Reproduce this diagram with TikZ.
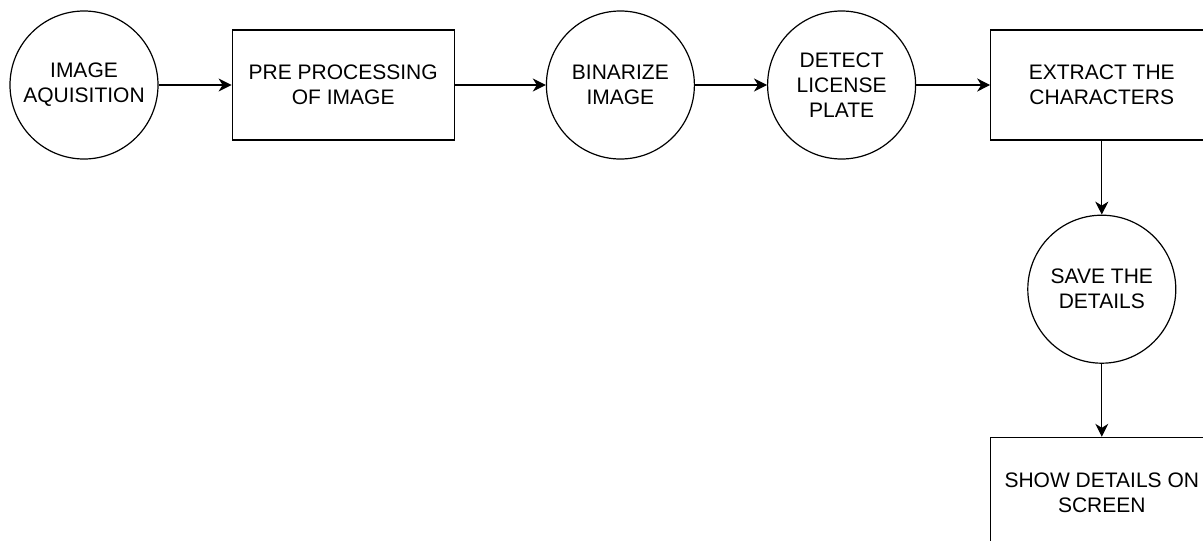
\documentclass[tikz,border=0pt]{standalone}
\usepackage{fontspec}
\setmainfont{Liberation Sans}
\usepackage{tikz}
\usetikzlibrary{positioning, arrows.meta}

\tikzset{
  stage/.style={circle, draw, line width=1.2pt, minimum size=148pt, inner sep=0pt,
                align=center, font=\fontsize{21pt}{25pt}\selectfont},
  task/.style={rectangle, draw, line width=1.2pt, minimum width=222pt, minimum height=110pt,
               inner sep=0pt, align=center, font=\fontsize{21pt}{25pt}\selectfont},
  flow/.style={-{Stealth[length=13pt, width=13pt, inset=4pt]}, line width=1.2pt}
}

\begin{document}
\begin{tikzpicture}
    \useasboundingbox (0,0) rectangle (1203pt,-541pt);

    % top row
    \node[stage] (acquire) at (84pt,-85pt) {IMAGE\\AQUISITION};
    \node[task, right=73pt of acquire] (preproc) {PRE PROCESSING\\OF IMAGE};
    \node[stage, right=91pt of preproc] (binarize) {BINARIZE\\IMAGE};
    \node[stage, right=72pt of binarize] (detect) {DETECT\\LICENSE\\PLATE};
    \node[task, right=74pt of detect] (extract) {EXTRACT THE\\CHARACTERS};

    % right column
    \node[stage, below=74pt of extract] (save) {SAVE THE\\DETAILS};
    \node[task, below=73pt of save] (show) {SHOW DETAILS ON\\SCREEN};

    \draw[flow] (acquire) -- (preproc);
    \draw[flow] (preproc) -- (binarize);
    \draw[flow] (binarize) -- (detect);
    \draw[flow] (detect) -- (extract);
    \draw[flow] (extract) -- (save);
    \draw[flow] (save) -- (show);
  \end{tikzpicture}
\end{document}
